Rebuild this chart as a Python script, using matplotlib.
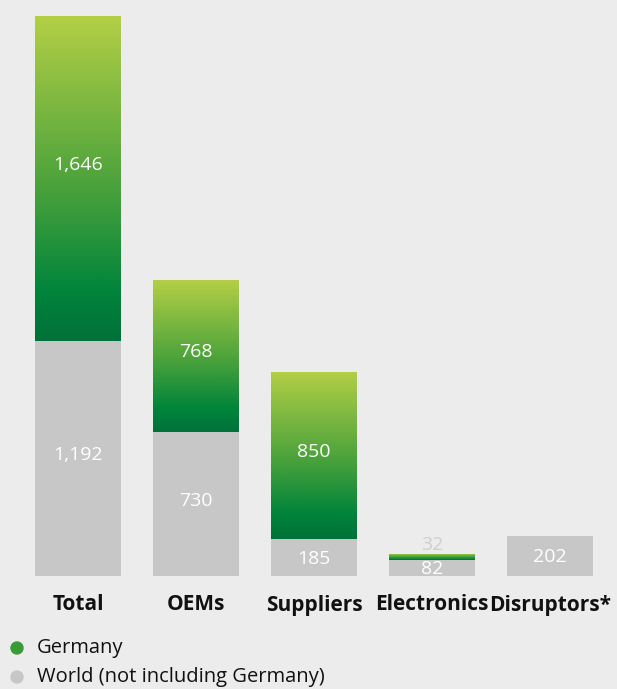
import numpy as np
import matplotlib.pyplot as plt
from matplotlib.colors import LinearSegmentedColormap
from matplotlib.patches import Ellipse

categories = ["Total", "OEMs", "Suppliers", "Electronics", "Disruptors*"]
world = [1192, 730, 185, 82, 202]
germany = [1646, 768, 850, 32, 0]
world_labels = ["1,192", "730", "185", "82", "202"]
germany_labels = ["1,646", "768", "850", "32", ""]

BG = "#ececec"
GREY = "#c6c7c6"
green_cmap = LinearSegmentedColormap.from_list(
    "grn", [(0.0, "#007139"), (0.15, "#00843b"), (0.45, "#45a03b"), (1.0, "#b3cf46")])

plt.rcParams['font.family'] = ['Open Sans', 'DejaVu Sans']

fig = plt.figure(figsize=(6.17, 6.89), dpi=100, facecolor=BG)
W, H = 617, 689
ax = fig.add_axes([0, 113 / H, 1, 560 / H])
ax.set_facecolor(BG)
ax.axis("off")

x = np.arange(len(categories))
width = 86 / 118
grad = np.linspace(0, 1, 256).reshape(-1, 1)
px = (world[0] + germany[0]) / 560  # data units per pixel

ax.bar(x, world, width=width, color=GREY, linewidth=0)
for i in range(len(categories)):
    if germany[i] > 0:
        bars = ax.bar(x[i], germany[i], bottom=world[i], width=width,
                      color="none", linewidth=0)
        im = ax.imshow(grad, cmap=green_cmap, origin="lower", aspect="auto",
                       extent=(x[i] - width / 2, x[i] + width / 2,
                               world[i], world[i] + germany[i]), zorder=2)
        im.set_clip_path(bars[0])

ax.set_xlim(-78 / 118, (W - 78) / 118)
ax.set_ylim(0, world[0] + germany[0])

for i in range(len(categories)):
    if i == 3:
        ax.text(x[i], world[i] / 2 - 1 * px, world_labels[i], ha="center", va="center",
                color="white", fontsize=14, zorder=3)
        ax.text(x[i], world[i] + germany[i] + 9 * px, germany_labels[i], ha="center",
                va="center", color="#cfcfcf", fontsize=14, zorder=3)
        continue
    off = 3 if world[i] > 500 else -1
    ax.text(x[i], world[i] / 2 + off * px, world_labels[i], ha="center", va="center",
            color="white", fontsize=14, zorder=3)
    if germany[i] > 0:
        off = 13 if i == 0 else 4
        ax.text(x[i], world[i] + germany[i] / 2 + off * px, germany_labels[i],
                ha="center", va="center", color="white", fontsize=14, zorder=3)

for i, c in enumerate(categories):
    fig.text((78 + 118 * i) / W, 1 - 605 / H, c, ha="center", va="center",
             fontsize=15, fontweight="bold", color="#111111")

# legend, drawn by hand
legend_items = [("Germany", "#3a9a36", 648), ("World (not including Germany)", GREY, 677)]
for label, col, ypx in legend_items:
    fig.patches.append(Ellipse((17 / W, 1 - ypx / H), 12 / W, 12 / H, color=col,
                               transform=fig.transFigure, figure=fig))
    fig.text(37 / W, 1 - ypx / H, label, ha="left", va="center", fontsize=14.5,
             color="#111111")

fig.savefig("out.png", dpi=100, facecolor=BG)
